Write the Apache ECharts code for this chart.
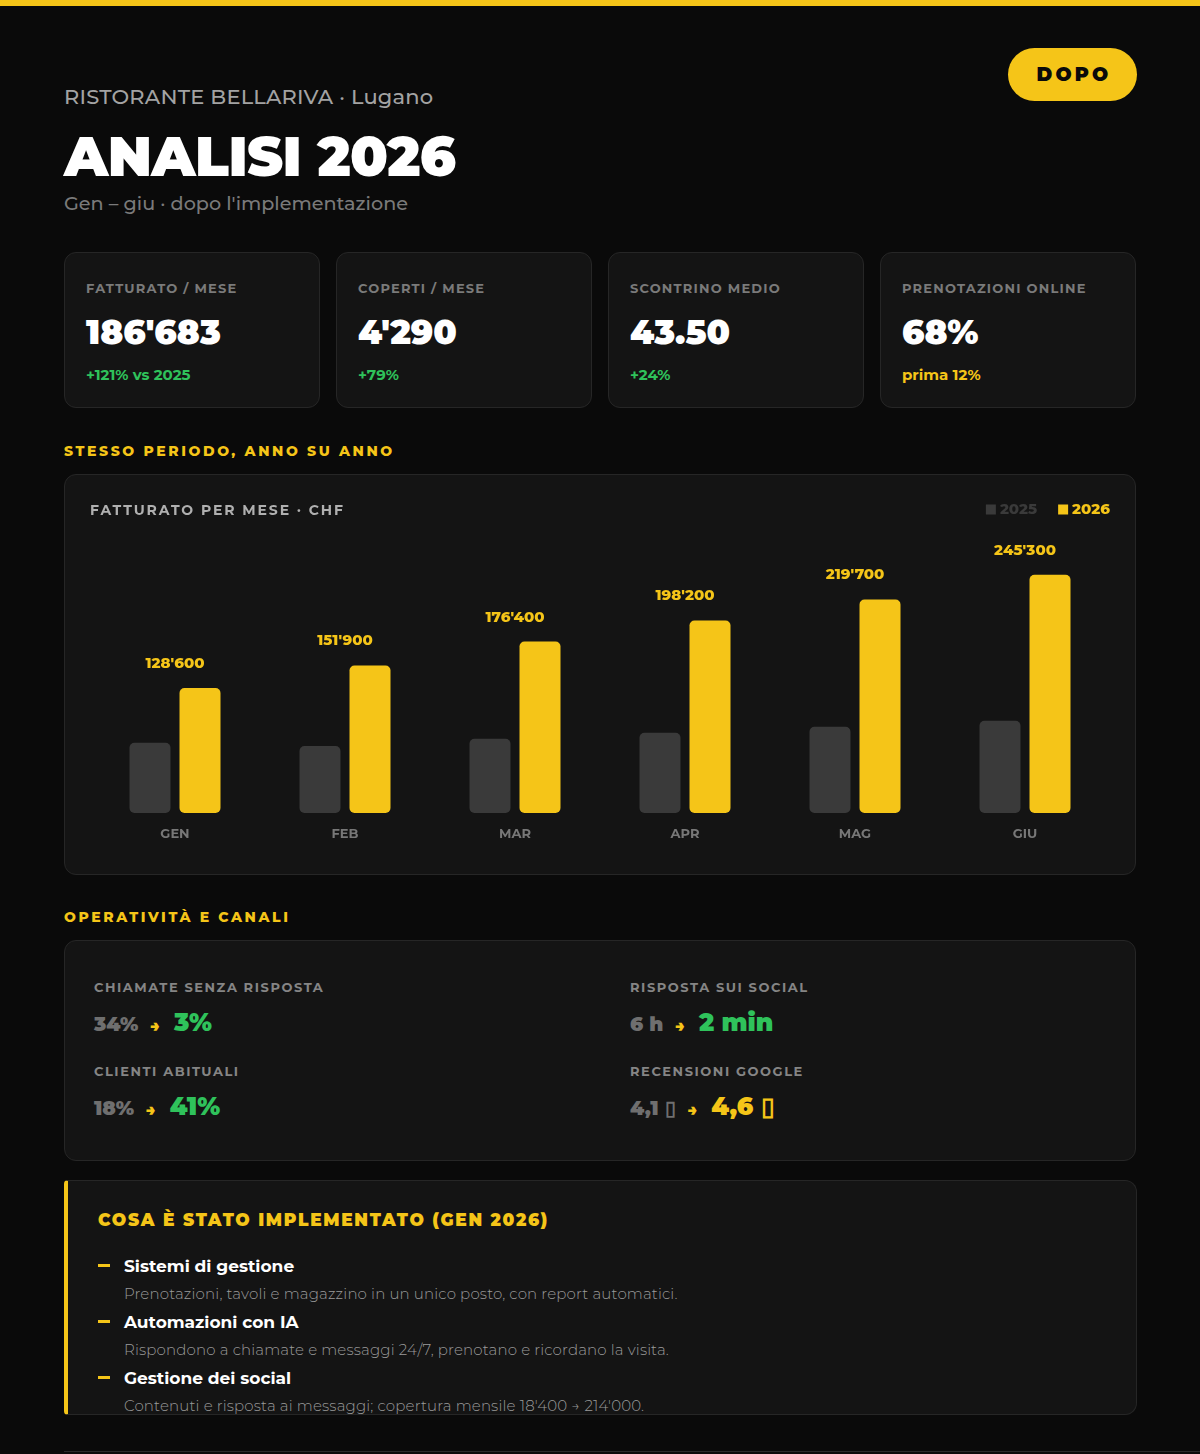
<!DOCTYPE html>
<html lang="it">
<head>
<meta charset="utf-8">
<title>Analisi 2026 - Ristorante Bellariva</title>
<script src="https://cdn.jsdelivr.net/npm/echarts@6/dist/echarts.min.js"></script>
<style>
  * { box-sizing: border-box; margin: 0; padding: 0; }
  html, body { width: 1200px; height: 1454px; background: #0a0a0a; overflow: hidden; }
  body { font-family: Montserrat, Inter, "Noto Sans", sans-serif; color: #fff; position: relative; }
  .topbar { position: absolute; left: 0; top: 0; width: 1200px; height: 6px; background: #f5c518; }
  .badge { position: absolute; left: 1008px; top: 48px; width: 129px; height: 53px; border-radius: 27px;
           background: #f5c518; color: #0a0a0a; font-weight: 900; font-size: 19px; letter-spacing: 3.2px;
           display: flex; align-items: center; justify-content: center; padding-left: 3px; }
  .kicker { position: absolute; left: 64px; top: 84px; font-size: 21px; letter-spacing: 0.2px; color: #a3a3a3; font-weight: 500; }
  .title { position: absolute; left: 64px; top: 124px; font-size: 55px; font-weight: 900; letter-spacing: -0.6px; line-height: 66px; }
  .subtitle { position: absolute; left: 64px; top: 191px; font-size: 19.2px; color: #7a7a7a; font-weight: 500; }
  .card { position: absolute; background: #141414; border: 1px solid #262626; border-radius: 12px; }
  .kpi { top: 252px; width: 256px; height: 156px; }
  .kpi .lab { position: absolute; left: 21px; top: 27px; font-size: 13px; font-weight: 700; letter-spacing: 1.2px; color: #7a7a7a; }
  .kpi .val { position: absolute; left: 21px; top: 58px; font-size: 34px; font-weight: 900; color: #fff; }
  .kpi .sub { position: absolute; left: 21px; top: 112px; font-size: 15px; font-weight: 700; color: #2fc25b; }
  .kpi .sub.y { color: #f5c518; }
  .section { position: absolute; left: 64px; font-size: 14px; font-weight: 800; letter-spacing: 2.6px; color: #f5c518; }
  #chartbox { left: 64px; top: 474px; width: 1072px; height: 401px; }
  #chart { position: absolute; left: 0; top: 0; width: 1070px; height: 399px; }
  .ctitle { position: absolute; left: 25px; top: 26px; font-size: 14px; font-weight: 700; letter-spacing: 1.9px; color: #b0b0b0; }
  #ops { left: 64px; top: 940px; width: 1072px; height: 221px; }
  .op { position: absolute; }
  .op .lab { font-size: 13px; font-weight: 700; letter-spacing: 1.55px; color: #858585; }
  .op .row { margin-top: 12px; display: flex; align-items: baseline; font-weight: 900; }
  .op .old { font-size: 20px; color: #6f6f6f; }
  .op .arr { font-size: 16px; color: #f5c518; margin: 0 14px 0 12px; }
  .op .new { font-size: 25px; color: #2fc25b; }
  .op .new.y { color: #f5c518; }
  #impl { left: 64px; top: 1180px; width: 1073px; height: 235px; border-left: 4px solid #f5c518; border-radius: 4px 12px 12px 4px; overflow: hidden; }
  #impl h3 { position: absolute; left: 30px; top: 29px; font-size: 17px; font-weight: 900; letter-spacing: 1.7px; color: #f5c518; }
  .item { position: absolute; left: 30px; }
  .item .dash { position: absolute; left: 0; top: 8px; width: 12px; height: 3px; background: #f5c518; }
  .item .t { position: absolute; left: 26px; top: 0; font-size: 17px; font-weight: 700; color: #fff; white-space: nowrap; }
  .item .d { position: absolute; left: 26px; top: 28px; font-size: 15px; font-weight: 300; letter-spacing: 0.15px; color: #9a9a9a; white-space: nowrap; }
  .footer { position: absolute; left: 64px; top: 1451px; width: 1136px; height: 1px; background: #2a2a2a; }
</style>
</head>
<body>
<div class="topbar"></div>
<div class="badge">DOPO</div>
<div class="kicker">RISTORANTE BELLARIVA · Lugano</div>
<div class="title">ANALISI 2026</div>
<div class="subtitle">Gen – giu · dopo l'implementazione</div>

<div class="card kpi" style="left:64px"><div class="lab">FATTURATO / MESE</div><div class="val">186'683</div><div class="sub">+121% vs 2025</div></div>
<div class="card kpi" style="left:336px"><div class="lab">COPERTI / MESE</div><div class="val">4'290</div><div class="sub">+79%</div></div>
<div class="card kpi" style="left:608px"><div class="lab">SCONTRINO MEDIO</div><div class="val">43.50</div><div class="sub">+24%</div></div>
<div class="card kpi" style="left:880px"><div class="lab">PRENOTAZIONI ONLINE</div><div class="val">68%</div><div class="sub y">prima 12%</div></div>

<div class="section" style="top:442px">STESSO PERIODO, ANNO SU ANNO</div>
<div class="card" id="chartbox">
  <div id="chart"></div>
  <div class="ctitle">FATTURATO PER MESE · CHF</div>
</div>

<div class="section" style="top:908px">OPERATIVITÀ E CANALI</div>
<div class="card" id="ops">
  <div class="op" style="left:29px;top:38px"><div class="lab">CHIAMATE SENZA RISPOSTA</div>
    <div class="row"><span class="old">34%</span><span class="arr">→</span><span class="new">3%</span></div></div>
  <div class="op" style="left:565px;top:38px"><div class="lab">RISPOSTA SUI SOCIAL</div>
    <div class="row"><span class="old">6 h</span><span class="arr">→</span><span class="new">2 min</span></div></div>
  <div class="op" style="left:29px;top:122px"><div class="lab">CLIENTI ABITUALI</div>
    <div class="row"><span class="old">18%</span><span class="arr">→</span><span class="new">41%</span></div></div>
  <div class="op" style="left:565px;top:122px"><div class="lab">RECENSIONI GOOGLE</div>
    <div class="row"><span class="old">4,1 ▯</span><span class="arr">→</span><span class="new y">4,6 ▯</span></div></div>
</div>

<div class="card" id="impl">
  <h3>COSA È STATO IMPLEMENTATO (GEN 2026)</h3>
  <div class="item" style="top:75px"><div class="dash"></div><div class="t">Sistemi di gestione</div><div class="d">Prenotazioni, tavoli e magazzino in un unico posto, con report automatici.</div></div>
  <div class="item" style="top:131px"><div class="dash"></div><div class="t">Automazioni con IA</div><div class="d">Rispondono a chiamate e messaggi 24/7, prenotano e ricordano la visita.</div></div>
  <div class="item" style="top:187px"><div class="dash"></div><div class="t">Gestione dei social</div><div class="d">Contenuti e risposta ai messaggi; copertura mensile 18'400 → 214'000.</div></div>
</div>
<div class="footer"></div>

<script>
// fatturato mensile CHF, gen - giu
const months = ['GEN', 'FEB', 'MAR', 'APR', 'MAG', 'GIU'];
const rev2025 = [72400, 69000, 76300, 82500, 88700, 94900];
const rev2026 = [128600, 151900, 176400, 198200, 219700, 245300];

const YELLOW = '#f5c518';
const GREY = '#3a3a3a';
const FONT = 'Montserrat, Inter, "Noto Sans", sans-serif';

function chf(v) {
    return String(v).replace(/\B(?=(\d{3})+(?!\d))/g, "'");
}

let myChart = echarts.init(document.getElementById('chart'));
let option = {
    backgroundColor: 'transparent',
    animation: false,
    textStyle: { fontFamily: FONT },
    legend: {
        right: 25, top: 27, padding: 0,
        itemWidth: 10, itemHeight: 10, itemGap: 21,
        icon: 'rect',
        textStyle: { fontSize: 15, fontWeight: 800, fontFamily: FONT, padding: [0, 0, 0, -1] },
        data: [
            { name: '2025', textStyle: { color: GREY } },
            { name: '2026', textStyle: { color: YELLOW } }
        ]
    },
    grid: { left: 25, right: 25, top: 65, bottom: 61 },
    xAxis: {
        type: 'category',
        data: months,
        axisLine: { show: false },
        axisTick: { show: false },
        axisLabel: { color: '#777', fontSize: 13, fontWeight: 700, margin: 15, fontFamily: FONT }
    },
    yAxis: {
        type: 'value', min: 0, max: 281000,
        show: false,
        splitLine: { show: false }
    },
    series: [
        {
            name: '2025', type: 'bar', data: rev2025,
            barWidth: 41, barGap: '22%',
            itemStyle: { color: GREY, borderRadius: 5 }
        },
        {
            name: '2026', type: 'bar', data: rev2026,
            barWidth: 41,
            itemStyle: { color: YELLOW, borderRadius: 5 },
            label: {
                show: true, position: 'top', distance: 17, offset: [-25, 0],
                color: YELLOW, fontSize: 15, fontWeight: 800, fontFamily: FONT,
                formatter: p => chf(p.value)
            }
        }
    ]
};
myChart.setOption(option);
</script>
</body>
</html>
